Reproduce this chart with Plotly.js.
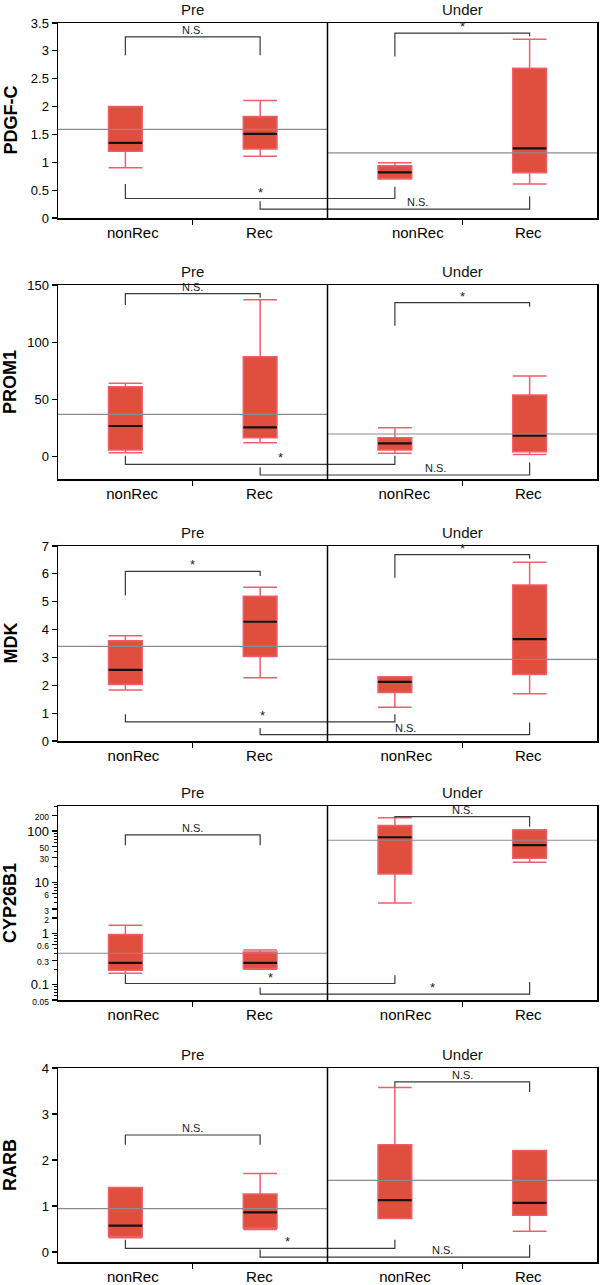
<!DOCTYPE html>
<html><head><meta charset="utf-8">
<script src="https://cdn.plot.ly/plotly-3.0.1.min.js"></script>
<style>html,body{margin:0;padding:0;background:#fff}</style>
</head><body><div id="chart" style="width:600px;height:1285px"></div>
<script>
// ---------- data ----------
const groups = ['nonRec', 'Rec', 'nonRec', 'Rec'];
const periods = ['Pre', 'Under'];
const genes = ['PDGF-C', 'PROM1', 'MDK', 'CYP26B1', 'RARB'];

// box statistics per group: Pre-nonRec, Pre-Rec, Under-nonRec, Under-Rec
const pdgfLo  = [0.90, 1.11, 0.70, 0.61];
const pdgfQ1  = [1.20, 1.24, 0.71, 0.81];
const pdgfMed = [1.35, 1.51, 0.82, 1.25];
const pdgfQ3  = [2.00, 1.82, 0.94, 2.69];
const pdgfHi  = [2.00, 2.11, 0.99, 3.21];
const pdgfMean = [1.59, 1.17];

const promLo  = [3.5, 12.2, 2.9, 2.0];
const promQ1  = [5.8, 16.6, 5.8, 4.4];
const promMed = [26.8, 25.6, 11.7, 18.4];
const promQ3  = [61.2, 87.4, 16.6, 53.9];
const promHi  = [64.1, 137.2, 25.3, 70.5];
const promMean = [37.0, 19.8];

const mdkLo  = [1.83, 2.27, 1.21, 1.70];
const mdkQ1  = [2.03, 3.03, 1.74, 2.39];
const mdkMed = [2.55, 4.28, 2.12, 3.66];
const mdkQ3  = [3.60, 5.20, 2.31, 5.60];
const mdkHi  = [3.78, 5.52, 2.31, 6.42];
const mdkMean = [3.40, 2.93];

const cypLo  = [0.167, 0.200, 3.95, 24.7];
const cypQ1  = [0.191, 0.206, 14.5, 29.6];
const cypMed = [0.265, 0.265, 75.7, 53.0];
const cypQ3  = [0.956, 0.434, 128, 105];
const cypHi  = [1.45, 0.474, 183, 106];
const cypMean = [0.41, 66.2];

const rarbLo  = [0.31, 0.49, 0.728, 0.454];
const rarbQ1  = [0.34, 0.526, 0.728, 0.80];
const rarbMed = [0.577, 0.865, 1.13, 1.07];
const rarbQ3  = [1.405, 1.26, 2.33, 2.21];
const rarbHi  = [1.405, 1.708, 3.575, 2.21];
const rarbMean = [0.944, 1.557];

// significance brackets: [fromGroup, toGroup, barLevel, leftLegEnd, rightLegEnd, label, labelX]
const pdgfBrackets = [
  [0, 1, 3.25, 2.92, 2.92, 'N.S.', 1.0],
  [2, 3, 3.32, 2.90, 3.26, '*', 3.0],
  [0, 2, 0.35, 0.61, 0.56, '*', 1.5],
  [1, 3, 0.16, 0.30, 0.39, 'N.S.', 2.67]
];
const promBrackets = [
  [0, 1, 142.4, 132.5, 138.9, 'N.S.', 1.0],
  [2, 3, 134.6, 114.5, 131.0, '*', 3.0],
  [0, 2, -6.7, 0.9, 0.9, '*', 1.65],
  [1, 3, -16.0, -9.3, -5.0, 'N.S.', 2.8]
];
const mdkBrackets = [
  [0, 1, 6.09, 5.22, 5.92, '*', 1.0],
  [2, 3, 6.69, 5.86, 6.54, '*', 3.0],
  [0, 2, 0.69, 0.96, 0.96, '*', 1.52],
  [1, 3, 0.23, 0.47, 0.66, 'N.S.', 2.58]
];
const cypBrackets = [
  [0, 1, 84, 53, 53, 'N.S.', 1.0],
  [2, 3, 191, 183, 122, 'N.S.', 3.0],
  [0, 2, 0.105, 0.16, 0.153, '*', 1.58],
  [1, 3, 0.065, 0.088, 0.113, '*', 2.78]
];
const rarbBrackets = [
  [0, 1, 2.544, 2.33, 2.33, 'N.S.', 1.0],
  [2, 3, 3.70, 3.58, 3.48, 'N.S.', 3.0],
  [0, 2, 0.08, 0.27, 0.27, '*', 1.7],
  [1, 3, -0.108, 0.058, 0.159, 'N.S.', 2.85]
];

// y-axis ticks
const pdgfTicks = [0, 0.5, 1, 1.5, 2, 2.5, 3, 3.5];
const promTicks = [0, 50, 100, 150];
const mdkTicks = [0, 1, 2, 3, 4, 5, 6, 7];
const cypTicks = [0.05, 0.1, 0.3, 0.6, 1, 2, 3, 6, 10, 30, 50, 100, 200];
const cypBigTicks = [0.1, 1, 10, 100];
const rarbTicks = [0, 1, 2, 3, 4];

// ---------- layout helpers ----------
const panels = [
  {gene: genes[0], lo: pdgfLo, q1: pdgfQ1, med: pdgfMed, q3: pdgfQ3, hi: pdgfHi, mean: pdgfMean, br: pdgfBrackets, ticks: pdgfTicks, range: [0, 3.5], log: false, lab: [0.555, 1.495, 2.67, 3.49]},
  {gene: genes[1], lo: promLo, q1: promQ1, med: promMed, q3: promQ3, hi: promHi, mean: promMean, br: promBrackets, ticks: promTicks, range: [-19.5, 150], log: false, lab: [0.55, 1.495, 2.57, 3.49]},
  {gene: genes[2], lo: mdkLo, q1: mdkQ1, med: mdkMed, q3: mdkQ3, hi: mdkHi, mean: mdkMean, br: mdkBrackets, ticks: mdkTicks, range: [0, 7], log: false, lab: [0.56, 1.495, 2.585, 3.49]},
  {gene: genes[3], lo: cypLo, q1: cypQ1, med: cypMed, q3: cypQ3, hi: cypHi, mean: cypMean, br: cypBrackets, ticks: cypTicks, range: [Math.log10(0.05), 2.49], log: true, lab: [0.56, 1.495, 2.58, 3.49]},
  {gene: genes[4], lo: rarbLo, q1: rarbQ1, med: rarbMed, q3: rarbQ3, hi: rarbHi, mean: rarbMean, br: rarbBrackets, ticks: rarbTicks, range: [-0.215, 4], log: false, lab: [0.555, 1.495, 2.575, 3.49]}
];
const tops = [23, 285, 546, 806, 1068];
const bottoms = [218, 479, 741, 1000, 1262];
const H = 1285;
const xPos = [0.5, 1.5, 2.5, 3.5];
const boxW = 0.25;
const FONT = 'Liberation Sans, Arial, Helvetica, sans-serif';

const traces = [];
const annotations = [];
const shapes = [];
const layout = {
  width: 600, height: H,
  margin: {l: 58, r: 3, t: 0, b: 0},
  paper_bgcolor: '#fff', plot_bgcolor: '#fff',
  showlegend: false,
  font: {family: FONT, color: '#000'}
};

panels.forEach((p, i) => {
  const n = i + 1;
  const xa = n === 1 ? 'x' : 'x' + n;
  const ya = n === 1 ? 'y' : 'y' + n;
  const toY = v => p.log ? Math.log10(v) : v;

  // boxes
  traces.push({
    type: 'box', xaxis: xa, yaxis: ya,
    x: xPos, q1: p.q1, median: p.med, q3: p.q3, lowerfence: p.lo, upperfence: p.hi,
    width: boxW, whiskerwidth: 1, boxpoints: false,
    fillcolor: '#e04e3e', line: {color: '#ef5f6a', width: 1.5},
    hoverinfo: 'skip'
  });
  // black medians
  const mx = [], my = [];
  p.med.forEach((m, k) => { mx.push(xPos[k] - boxW / 2, xPos[k] + boxW / 2, null); my.push(m, m, null); });
  traces.push({type: 'scatter', mode: 'lines', xaxis: xa, yaxis: ya, x: mx, y: my,
    line: {color: '#111', width: 2.2}, hoverinfo: 'skip'});
  // period means
  traces.push({type: 'scatter', mode: 'lines', xaxis: xa, yaxis: ya,
    x: [0, 2, null, 2, 4], y: [p.mean[0], p.mean[0], null, p.mean[1], p.mean[1]],
    line: {color: '#8c8c8c', width: 1.2}, hoverinfo: 'skip'});
  // brackets
  p.br.forEach(b => {
    const x1 = xPos[b[0]], x2 = xPos[b[1]];
    traces.push({type: 'scatter', mode: 'lines', xaxis: xa, yaxis: ya,
      x: [x1, x1, x2, x2], y: [b[3], b[2], b[2], b[4]],
      line: {color: '#3a3a3a', width: 1.2}, hoverinfo: 'skip'});
    annotations.push({xref: xa, yref: ya, x: b[6], y: toY(b[2]), text: b[5], showarrow: false,
      yanchor: 'bottom', xanchor: 'center', yshift: b[5] === '*' ? -3 : -1,
      font: {size: b[5] === '*' ? 13 : 11, color: '#222', family: FONT}});
  });

  // divider
  shapes.push({type: 'line', xref: xa, yref: ya + ' domain', x0: 2, x1: 2, y0: 0, y1: 1,
    line: {color: '#000', width: 1.5}});

  // period titles
  periods.forEach((t, k) => {
    annotations.push({xref: xa, yref: ya + ' domain', x: 1 + 2 * k, y: 1, text: t, showarrow: false,
      yanchor: 'bottom', yshift: 3, font: {size: 15, family: FONT, color: '#111'}});
  });
  // gene label
  annotations.push({xref: 'paper', yref: ya + ' domain', x: 0, y: 0.5, xshift: -48, text: '<b>' + p.gene + '</b>',
    textangle: -90, showarrow: false, xanchor: 'center', yanchor: 'middle',
    font: {size: 18, family: FONT, color: '#000'}});

  const dom = [1 - bottoms[i] / H, 1 - tops[i] / H];
  layout[xa === 'x' ? 'xaxis' : 'xaxis' + n] = {
    domain: [0, 1], anchor: ya, range: [0, 4], fixedrange: true,
    tickmode: 'array', tickvals: p.lab, ticktext: groups, ticks: '',
    tickfont: {size: 15, family: FONT, color: '#000'},
    showline: true, mirror: true, linecolor: '#000', linewidth: 1.5,
    showgrid: false, zeroline: false,
    minor: {tickmode: 'array', tickvals: [1, 3], ticks: 'outside', ticklen: 5, tickwidth: 1.2, tickcolor: '#000', showgrid: false}
  };
  const yax = {
    domain: dom, anchor: xa, range: p.range, fixedrange: true,
    showline: true, mirror: true, linecolor: '#000', linewidth: 1.5,
    showgrid: false, zeroline: false,
    ticks: 'outside', ticklen: 5, tickwidth: 1.2, tickcolor: '#000',
    tickmode: 'array', tickvals: p.ticks,
    tickfont: {size: 13, family: FONT, color: '#000'}
  };
  if (p.log) {
    yax.type = 'log';
    yax.ticktext = p.ticks.map(v => cypBigTicks.includes(v) ? String(v) : '<span style="font-size:8.5px">' + v + '</span>');
    const minorVals = [];
    [0.01, 0.1, 1, 10, 100].forEach(d => { for (let m = 2; m <= 9; m++) { const v = +(d * m).toPrecision(3); if (v >= 0.05 && v <= 300) minorVals.push(v); } });
    yax.minor = {tickmode: 'array', tickvals: minorVals, ticks: 'outside', ticklen: 3, tickwidth: 1, tickcolor: '#000', showgrid: false};
  } else {
    yax.ticktext = p.ticks.map(String);
  }
  layout[ya === 'y' ? 'yaxis' : 'yaxis' + n] = yax;
});

layout.annotations = annotations;
layout.shapes = shapes;
Plotly.newPlot('chart', traces, layout, {staticPlot: true, displayModeBar: false});
</script></body></html>
